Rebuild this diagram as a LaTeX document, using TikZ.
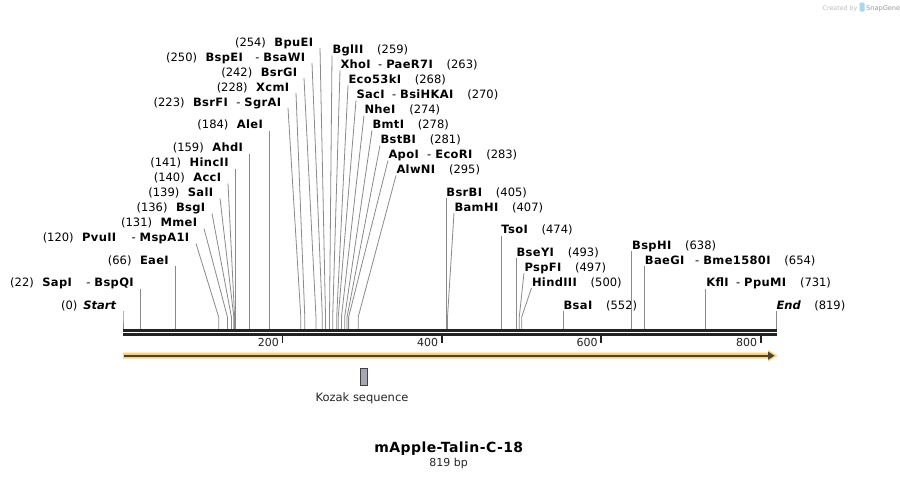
\documentclass[tikz,border=0pt]{standalone}
\usepackage{fontspec}
\setmainfont{DejaVu Sans}[BoldFeatures={LetterSpace=3}]
\definecolor{rulec}{HTML}{222222}
\definecolor{cutc}{HTML}{8A8A8A}
\definecolor{bandc}{HTML}{FDD17C}
\definecolor{arrc}{HTML}{4A4232}
\definecolor{kozc}{HTML}{A4A9B1}
\definecolor{logoc}{HTML}{A9D7EE}
\definecolor{credc}{HTML}{BDBDBD}

\newcommand{\B}[1]{\textbf{#1}}
\newcommand{\Ln}[2]{(#1)\hspace{8.5pt}#2}
\newcommand{\Rn}[2]{#1\hspace{13.5pt}(#2)}
\newcommand{\Dn}[3]{\textbf{#1}\hspace{#2pt}-\hspace{4pt}\textbf{#3}}

\newcommand{\Lsite}[5]{%
  \pgfmathsetmacro\sx{123+#2*0.79731}%
  \ifx&#3&\let\tx\sx\else\def\tx{#3}\fi
  \node[lab,anchor=base east] (n#1) at (\tx-6.5,#4) {#5};
  \coordinate (s#1) at (\sx,329.3);
  \draw[cut] ([shift={(6.5,2)}]n#1.base east) -- (\sx,317) -- (s#1);
}
\newcommand{\Rsite}[5]{%
  \pgfmathsetmacro\sx{123+#2*0.79731}%
  \ifx&#3&\let\tx\sx\else\def\tx{#3}\fi
  \node[lab,anchor=base west] (n#1) at (\tx+0.5,#4) {#5};
  \coordinate (s#1) at (\sx,329.3);
  \draw[cut] ([shift={(-0.5,2)}]n#1.base west) -- (\sx,317) -- (s#1);
}

\begin{document}
\begin{tikzpicture}[x=1pt,y=-1pt,
  lab/.style={inner sep=0pt,outer sep=0pt,font=\fontsize{11.5}{13}\selectfont,text=black},
  cut/.style={cutc,line width=0.8pt},
  ticklab/.style={inner sep=0pt,font=\fontsize{11}{13}\selectfont,text=rulec},
  kozak/.style={draw=black!75,fill=kozc,line width=0.8pt,minimum width=7.3pt,minimum height=16.7pt,inner sep=0pt}]
\useasboundingbox (0,0) rectangle (900,479);
\fill[white] (0,0) rectangle (900,479);

% credit
\node[inner sep=0pt,anchor=base west,font=\fontsize{6.3}{7}\selectfont,text=credc] (cred) at (822.5,10) {Created by};
\fill[logoc,rounded corners=1pt] (859.5,2.5) rectangle (864.5,11.5);
\node[inner sep=0pt,anchor=base west,font=\fontsize{6.6}{7}\selectfont,text=black!40] (snap) at (866,10) {SnapGene};

% left sites
\Lsite{start}{0}{}{309}{(0)\hspace{6pt}\textbf{\textit{Start}}}
\Lsite{sap}{22}{}{286.5}{\Ln{22}{\Dn{SapI}{14}{BspQI}}}
\Lsite{eae}{66}{}{264}{\Ln{66}{\B{EaeI}}}
\Lsite{pvu}{120}{196}{241.5}{\Ln{120}{\Dn{PvuII}{15}{MspA1I}}}
\Lsite{mme}{131}{204}{226.5}{\Ln{131}{\B{MmeI}}}
\Lsite{bsg}{136}{212}{211.5}{\Ln{136}{\B{BsgI}}}
\Lsite{sal}{139}{220}{196.5}{\Ln{139}{\B{SalI}}}
\Lsite{acc}{140}{228}{181.5}{\Ln{140}{\B{AccI}}}
\Lsite{hinc}{141}{}{166.5}{\Ln{141}{\B{HincII}}}
\Lsite{ahd}{159}{}{151.5}{\Ln{159}{\B{AhdI}}}
\Lsite{ale}{184}{}{128.5}{\Ln{184}{\B{AleI}}}
\Lsite{bsrf}{223}{288}{106}{\Ln{223}{\Dn{BsrFI}{8}{SgrAI}}}
\Lsite{xcm}{228}{296}{91}{\Ln{228}{\B{XcmI}}}
\Lsite{bsrg}{242}{304}{76}{\Ln{242}{\B{BsrGI}}}
\Lsite{bspe}{250}{312}{61}{\Ln{250}{\Dn{BspEI}{12}{BsaWI}}}
\Lsite{bpue}{254}{320}{46}{\Ln{254}{\B{BpuEI}}}

% right sites
\Rsite{bgl}{259}{332}{53.5}{\Rn{\B{BglII}}{259}}
\Rsite{xho}{263}{340}{68.5}{\Rn{\Dn{XhoI}{7}{PaeR7I}}{263}}
\Rsite{ecok}{268}{348}{83.5}{\Rn{\B{Eco53kI}}{268}}
\Rsite{sac}{270}{356}{98.5}{\Rn{\Dn{SacI}{7}{BsiHKAI}}{270}}
\Rsite{nhe}{274}{364}{113.5}{\Rn{\B{NheI}}{274}}
\Rsite{bmt}{278}{372}{128.5}{\Rn{\B{BmtI}}{278}}
\Rsite{bstb}{281}{380}{143.5}{\Rn{\B{BstBI}}{281}}
\Rsite{apo}{283}{388}{158.5}{\Rn{\Dn{ApoI}{8}{EcoRI}}{283}}
\Rsite{alwn}{295}{396}{173.5}{\Rn{\B{AlwNI}}{295}}
\Rsite{bsrb}{405}{}{196}{\Rn{\B{BsrBI}}{405}}
\Rsite{bam}{407}{454}{211}{\Rn{\B{BamHI}}{407}}
\Rsite{tso}{474}{}{233.5}{\Rn{\B{TsoI}}{474}}
\Rsite{bsey}{493}{}{256}{\Rn{\B{BseYI}}{493}}
\Rsite{pspf}{497}{524}{271}{\Rn{\B{PspFI}}{497}}
\Rsite{hind}{500}{531.5}{286}{\Rn{\B{HindIII}}{500}}
\Rsite{bsa}{552}{}{309}{\Rn{\B{BsaI}}{552}}
\Rsite{bsph}{638}{}{249}{\Rn{\B{BspHI}}{638}}
\Rsite{baeg}{654}{}{264}{\Rn{\Dn{BaeGI}{10.5}{Bme1580I}}{654}}
\Rsite{kfl}{731}{}{286.5}{\Rn{\Dn{KflI}{7}{PpuMI}}{731}}
\Rsite{end}{819}{}{309}{\textbf{\textit{End}}\hspace{13.5pt}(819)}

% ruler
\draw[rulec,line width=3pt] (123,330.5) -- (776.7,330.5);
\draw[rulec,line width=2.7pt] (123,334.4) -- (776.7,334.4);
\foreach \v in {200,400,600,800}{
  \pgfmathsetmacro\tkx{123+\v*0.79731}
  \draw[rulec,line width=1.8pt] (\tkx,335.7) -- (\tkx,342.7);
  \node[ticklab,anchor=base east] (tk\v) at (\tkx-3.5,346) {\v};
}

% feature arrow
\fill[bandc] (123,352.7) -- (768,352.7) -- (768,350) -- (777.5,355.7) -- (768,361.4) -- (768,358.7) -- (123,358.7) -- cycle;
\draw[arrc,line width=2pt] (124,355.7) -- (768.5,355.7);
\fill[arrc] (768,351.6) -- (774.5,355.7) -- (768,359.8) -- cycle;

% Kozak
\node[kozak] (koz) at (363.6,376.6) {};
\node[inner sep=0pt,anchor=base,font=\fontsize{11.5}{13}\selectfont,text=black!85] (kozl) at (362,401) {Kozak sequence};

% title
\node[inner sep=0pt,anchor=base,font=\fontsize{14}{16}\selectfont\bfseries] (title) at (448.8,452.7) {mApple-Talin-C-18};
\node[inner sep=0pt,anchor=base,font=\fontsize{11}{13}\selectfont,text=black!85] (bp) at (448.7,466) {819 bp};
\end{tikzpicture}
\end{document}
